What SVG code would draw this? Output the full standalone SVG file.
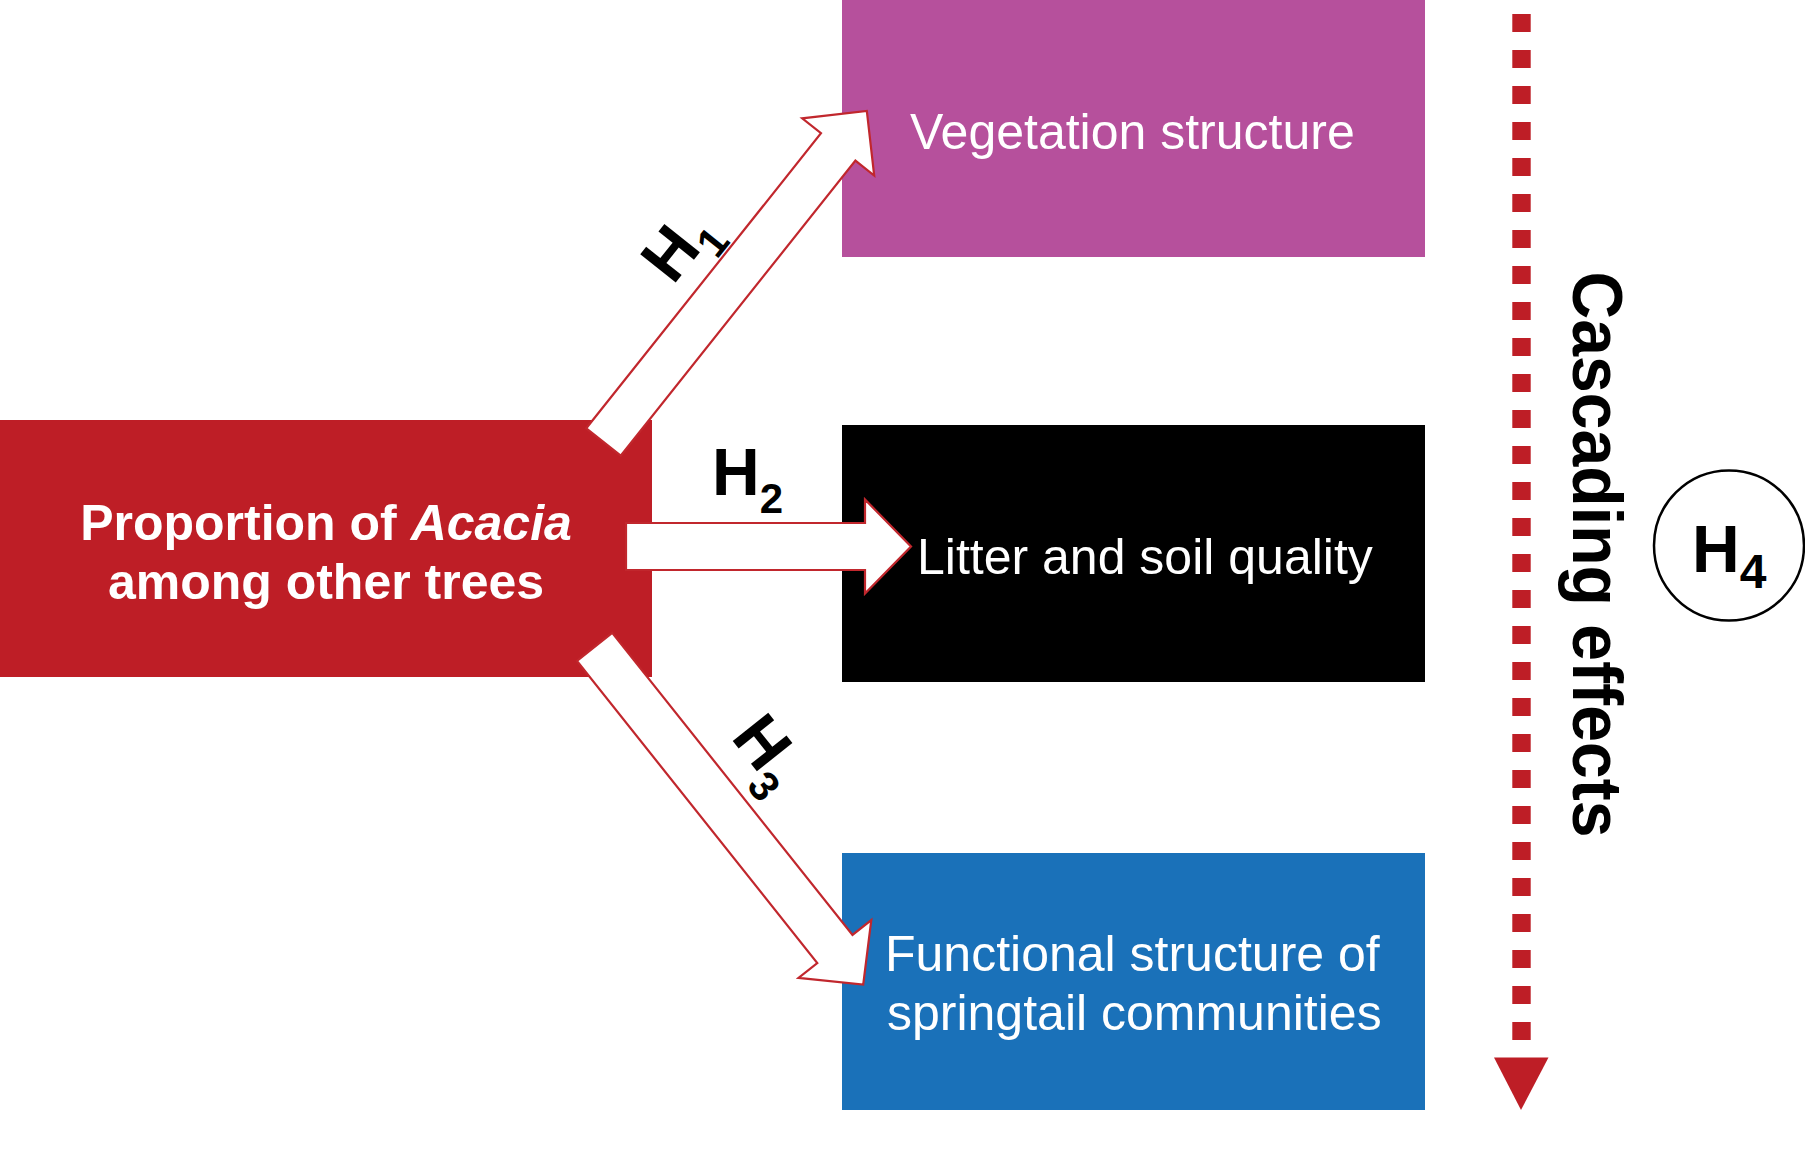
<svg xmlns="http://www.w3.org/2000/svg" width="1805" height="1166" viewBox="0 0 1805 1166">
<style>
.lbl{font-family:"Liberation Sans",Arial,sans-serif;fill:#fff;font-size:50px}
.h{font-family:"Liberation Sans",Arial,sans-serif;font-weight:bold;fill:#000;font-size:66px}
.sub{font-size:42px}
.arrow{fill:#fff;stroke:#C1272D;stroke-width:2.2;stroke-linejoin:miter}
</style>
<rect width="1805" height="1166" fill="#fff"/>
<g id="node-acacia">
<rect x="0" y="420" width="652" height="257" fill="#BE1E26"/>
<text class="lbl" font-weight="bold" text-anchor="middle" x="326" y="539.5">Proportion of <tspan font-style="italic">Acacia</tspan></text>
<text class="lbl" font-weight="bold" text-anchor="middle" x="326" y="598.5">among other trees</text>
</g>
<g id="node-vegetation">
<rect x="842" y="0" width="583" height="257" fill="#B6509C"/>
<text class="lbl" x="910" y="148.5">Vegetation structure</text>
</g>
<g id="node-litter">
<rect x="842" y="425" width="583" height="257" fill="#000"/>
<text class="lbl" x="917" y="573.5">Litter and soil quality</text>
</g>
<g id="node-springtail">
<rect x="842" y="853" width="583" height="257" fill="#1A71B9"/>
<text class="lbl" x="885" y="971">Functional structure of</text>
<text class="lbl" x="887" y="1030">springtail communities</text>
</g>
<g id="connectors">
<polygon class="arrow" transform="translate(603.5,442) rotate(-51.5)" points="0,-22 377,-22 377,-46 423,0 377,46 377,22 0,22"/>
<polygon class="arrow" transform="translate(626,546.5)" points="0,-23.5 239,-23.5 239,-47 285,0 239,47 239,23.5 0,23.5"/>
<polygon class="arrow" transform="translate(594.6,646.9) rotate(51.5)" points="0,-22.5 386,-22.5 386,-46.5 431.5,0 386,46.5 386,22.5 0,22.5"/>
<line x1="1521.5" y1="14" x2="1521.5" y2="1040" stroke="#BE1E26" stroke-width="18.4" stroke-dasharray="18 18"/>
<polygon points="1494,1057.5 1548.5,1057.5 1521,1110" fill="#BE1E26"/>
</g>
<g id="labels">
<text class="h" transform="translate(673,286) rotate(-51.5)">H<tspan class="sub" dy="18">1</tspan></text>
<text class="h" x="712" y="495">H<tspan class="sub" dy="18">2</tspan></text>
<text class="h" transform="translate(730,737.5) rotate(51.5)">H<tspan class="sub" dy="18">3</tspan></text>
<text class="h" transform="translate(1573,271.5) rotate(90)" textLength="566" lengthAdjust="spacingAndGlyphs" style="font-size:70px">Cascading effects</text>
</g>
<g id="node-h4">
<circle cx="1729" cy="545.5" r="75" fill="#fff" stroke="#000" stroke-width="2.5"/>
<text class="h" x="1692" y="572">H<tspan dy="16" style="font-size:48px">4</tspan></text>
</g>
</svg>
